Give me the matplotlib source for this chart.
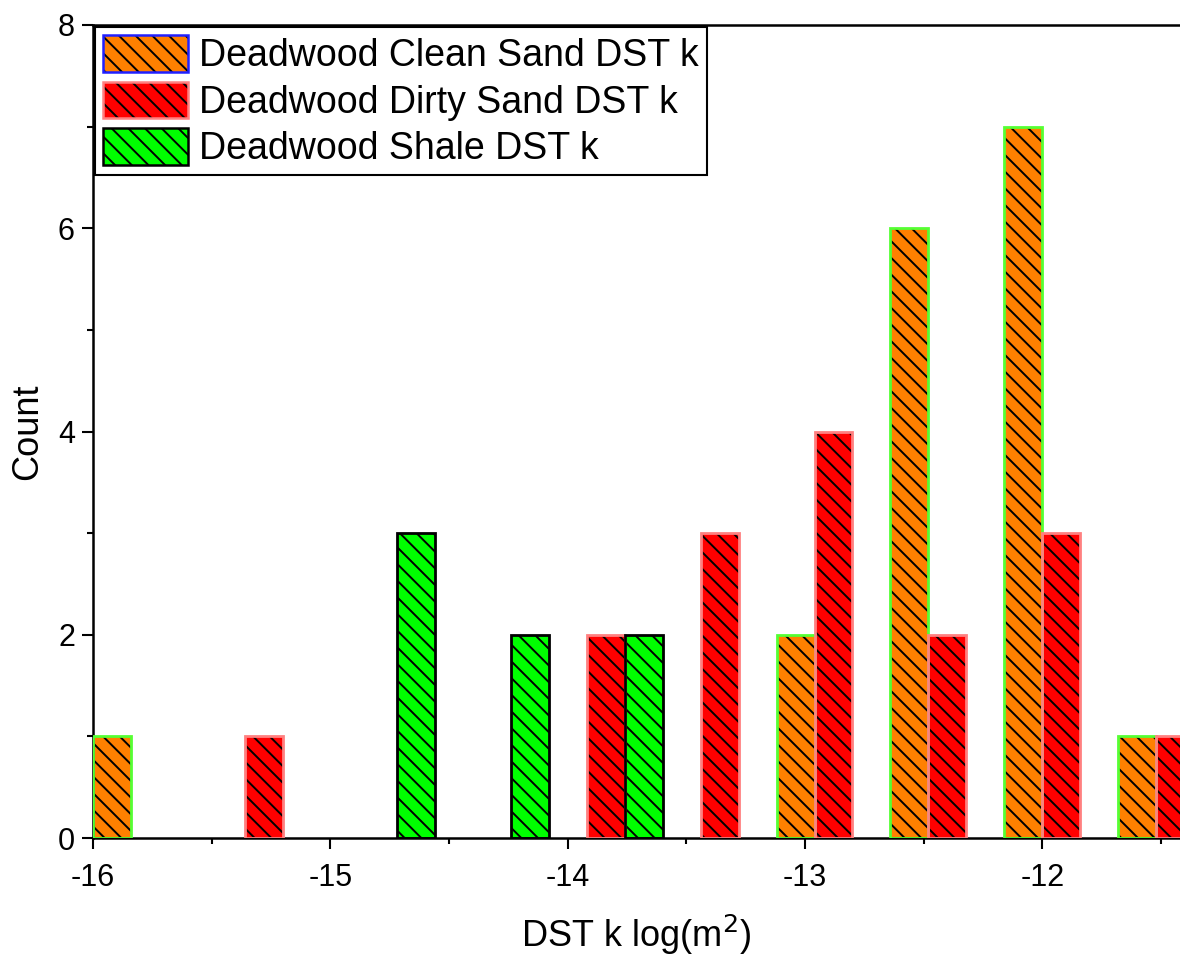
import numpy as np
import matplotlib
matplotlib.use("Agg")
import matplotlib.pyplot as plt
from matplotlib.patches import Patch
from matplotlib.legend_handler import HandlerPatch

plt.rcParams['font.family'] = ['Liberation Sans', 'DejaVu Sans']
plt.rcParams['axes.unicode_minus'] = False
plt.rcParams['hatch.linewidth'] = 1.4

# Histogram bins (log10 permeability, m^2), width 0.48 starting at -16
bin_start = -16.0
bin_width = 0.48
n_bins = 10

series_names = ["Deadwood Clean Sand DST k",
                "Deadwood Dirty Sand DST k",
                "Deadwood Shale DST k"]
clean_sand = [1, 0, 0, 0, 0, 0, 2, 6, 7, 1]
dirty_sand = [0, 1, 0, 0, 2, 3, 4, 2, 3, 1]
shale = [0, 0, 3, 2, 2, 0, 0, 0, 0, 0]

fills = ["#ff8000", "#ff0000", "#00ff00"]
edges = ["#55ff33", "#ff8080", "#000000"]
legend_edges = ["#2020ff", "#ff8080", "#000000"]

fig = plt.figure(figsize=(11.8, 9.56), dpi=100)
ax = fig.add_axes([93 / 1180, 1 - 838 / 956, 1 - 93 / 1180, (838 - 25) / 956])

bar_w = bin_width / 3
edges_left = bin_start + bin_width * np.arange(n_bins)
for i, counts in enumerate([clean_sand, dirty_sand, shale]):
    counts = np.asarray(counts)
    mask = counts > 0
    x = edges_left[mask] + i * bar_w
    h = counts[mask]
    # solid fill
    ax.bar(x, h, width=bar_w, align='edge', color=fills[i],
           linewidth=0, zorder=2)
    # black hatch layer
    ax.bar(x, h, width=bar_w, align='edge', facecolor='none',
           edgecolor='black', linewidth=0, hatch='\\\\', zorder=3)
    # coloured outline
    ax.bar(x, h, width=bar_w, align='edge', facecolor='none',
           edgecolor=edges[i], linewidth=2.0, zorder=4)

ax.set_xlim(-16, -11.42)
ax.set_ylim(0, 8)
ax.set_xticks([-16, -15, -14, -13, -12])
ax.set_xticks(np.arange(-15.5, -11.4, 1.0), minor=True)
ax.set_yticks([0, 2, 4, 6, 8])
ax.set_yticks([1, 3, 5, 7], minor=True)
ax.tick_params(axis='both', which='major', direction='out', length=8,
               width=1.5, labelsize=22, pad=5)
ax.tick_params(axis='both', which='minor', direction='out', length=4,
               width=1.5)
ax.xaxis.set_tick_params(pad=10)
for side in ['left', 'bottom', 'top']:
    ax.spines[side].set_linewidth(1.8)
ax.spines['right'].set_visible(False)

ax.set_xlabel("DST k log(m$^2$)", fontsize=26, labelpad=14)
ax.set_ylabel("Count", fontsize=26, labelpad=9)


class HatchedHandler(HandlerPatch):
    def create_artists(self, legend, orig_handle, xdescent, ydescent,
                       width, height, fontsize, trans):
        base = dict(xy=(-xdescent, -ydescent), width=width, height=height,
                    transform=trans)
        fill = plt.Rectangle(facecolor=orig_handle.get_facecolor(),
                             linewidth=0, **base)
        hatch = plt.Rectangle(facecolor='none', edgecolor='black',
                              linewidth=0, hatch='\\\\', **base)
        outline = plt.Rectangle(facecolor='none',
                                edgecolor=orig_handle.get_edgecolor(),
                                linewidth=1.8, **base)
        return [fill, hatch, outline]


handles = [Patch(facecolor=fills[i], edgecolor=legend_edges[i])
           for i in range(3)]
leg = ax.legend(handles, series_names, loc='upper left', fontsize=27,
                handlelength=2.25, handleheight=1.12, handletextpad=0.3,
                borderpad=0.22, labelspacing=0.2, borderaxespad=0.05,
                fancybox=False, framealpha=1, edgecolor='black',
                handler_map={Patch: HatchedHandler()})
leg.get_frame().set_linewidth(1.5)

fig.savefig("out.png", dpi=100)
